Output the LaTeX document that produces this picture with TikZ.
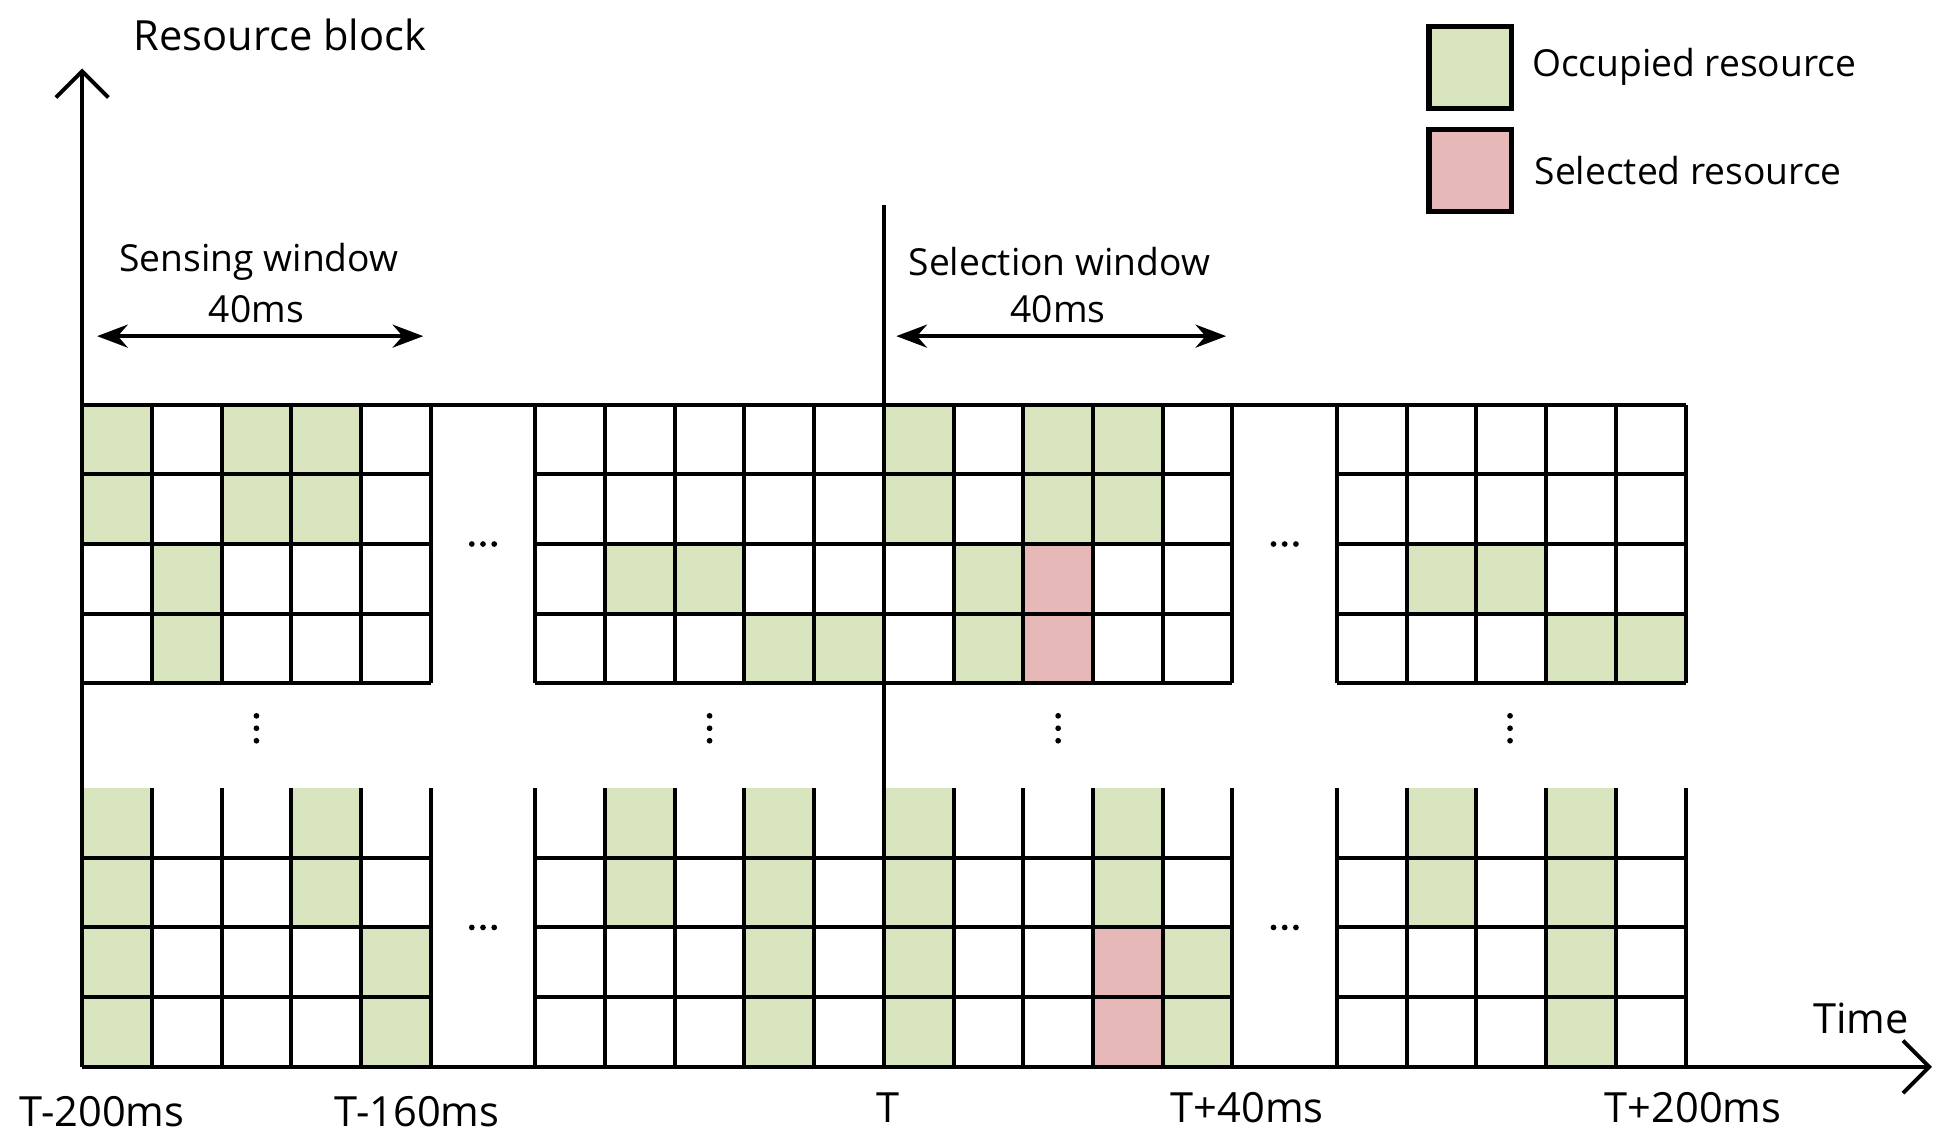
\documentclass[tikz,border=0pt]{standalone}
\usepackage{fontspec}
\setmainfont{Open Sans}
\usetikzlibrary{arrows.meta}

\definecolor{occgreen}{RGB}{215,228,189}
\definecolor{selpink}{RGB}{230,184,183}

% fill cells of one block: x0, y0, colour, col/row list
\newcommand\rbcells[4]{\foreach \c/\r in {#4} \fill[#3] ({#1+56*\c},{#2+56*\r}) rectangle ++(56,56);}
% grid of one block: x0, y0, number of columns
\newcommand\rbgrid[3]{%
  \foreach \i in {0,...,#3} \draw[grid line] ({#1+56*\i},#2) -- ++(0,224);
  \foreach \j in {1,...,4} \draw[grid line] (#1,{#2+56*\j}) -- ++({56*#3},0);}

\begin{document}
\begin{tikzpicture}[x=0.01cm, y=-0.01cm,
  grid line/.style={line width=0.9pt},
  label/.style={font=\fontsize{9.5}{11}\selectfont, inner sep=0pt},
  legend/.style={font=\fontsize{8.5}{10}\selectfont, inner sep=0pt},
  window/.style={{Stealth[length=7pt]}-{Stealth[length=7pt]}, line width=0.9pt}]
\useasboundingbox (0,0) rectangle (1560,920);

% Filled cells %
\rbcells{66}{325}{occgreen}{0/0,2/0,3/0,0/1,2/1,3/1,1/2,1/3}
\rbcells{430}{325}{occgreen}{5/0,7/0,8/0,5/1,7/1,8/1,1/2,2/2,6/2,3/3,4/3,6/3}
\rbcells{430}{325}{selpink}{7/2,7/3}
\rbcells{1074}{325}{occgreen}{1/2,2/2,3/3,4/3}
\rbcells{66}{633}{occgreen}{0/0,3/0,0/1,3/1,0/2,4/2,0/3,4/3}
\rbcells{430}{633}{occgreen}{1/0,3/0,5/0,8/0,1/1,3/1,5/1,8/1,3/2,5/2,9/2,3/3,5/3,9/3}
\rbcells{430}{633}{selpink}{8/2,8/3}
\rbcells{1074}{633}{occgreen}{1/0,3/0,1/1,3/1,3/2,3/3}

% Grids %
\rbgrid{66}{325}{5}
\rbgrid{430}{325}{10}
\rbgrid{1074}{325}{5}
\rbgrid{66}{633}{5}
\rbgrid{430}{633}{10}
\rbgrid{1074}{633}{5}
\draw[grid line] (66,325) -- (1354,325);

% Axes %
\coordinate (origin) at (66,857);
\coordinate (ytip) at (66,55);
\coordinate (xtip) at (1552,857);
\coordinate (ttop) at (710,165);
\coordinate (tbot) at (710,857);
\draw[grid line, -{Straight Barb[length=6pt]}] (origin) -- (ytip);
\draw[grid line, -{Straight Barb[length=6pt]}] (origin) -- (xtip);
\draw[line width=0.9pt] (ttop) -- (tbot);

\node[label] (ylab) at (225,28) {Resource block};
\node[label] (xlab) at (1495,818) {Time};
\node[label] (t1) at (82,893) {T-200ms};
\node[label] (t2) at (335,893) {T-160ms};
\node[label] (t3) at (713,890) {T};
\node[label] (t4) at (1002,890) {T+40ms};
\node[label] (t5) at (1360,890) {T+200ms};

% Windows %
\node[legend] (senslab) at (208,210) {Sensing window};
\node[legend] (sensms) at (206,248) {40ms};
\coordinate (sensl) at (78,270);
\coordinate (sensr) at (340,270);
\draw[window] (sensl) -- (sensr);
\node[legend] (sellab) at (851,210) {Selection window};
\node[legend] (selms) at (850,248) {40ms};
\coordinate (sell) at (720,270);
\coordinate (selr) at (985,270);
\draw[window] (sell) -- (selr);

% Dots %
\foreach \x/\y in {388/437, 388/745, 1032/437, 1032/745}
  \foreach \d in {-9,0,9} \fill ({\x+\d},\y) circle (2.3);
\foreach \x in {206,570,850,1213}
  \foreach \d in {-10,0,10} \fill (\x,{585+\d}) circle (2.3);

% Legend %
\node[draw, line width=1.2pt, fill=occgreen, minimum width=0.66cm, minimum height=0.66cm] (occbox) at (1181,54) {};
\node[draw, line width=1.2pt, fill=selpink, minimum width=0.66cm, minimum height=0.66cm] (selbox) at (1181,137) {};
\node[legend, anchor=west] (occlab) at (1230,54) {Occupied resource};
\node[legend, anchor=west] (sellab2) at (1232,137) {Selected resource};
\end{tikzpicture}
\end{document}
